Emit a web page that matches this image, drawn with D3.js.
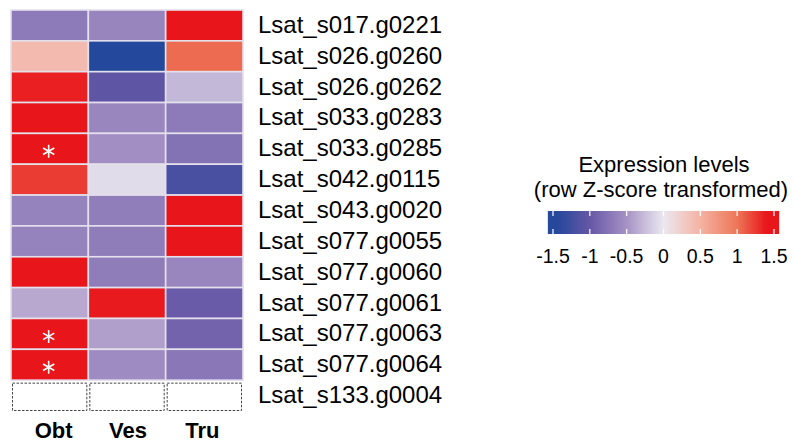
<!DOCTYPE html>
<html>
<head>
<meta charset="utf-8">
<script src="https://cdn.jsdelivr.net/npm/d3@7"></script>
<style>
  html, body { margin: 0; padding: 0; background: #fff; }
  svg { display: block; font-family: "Liberation Sans", Arial, sans-serif; }
</style>
</head>
<body>
<svg id="chart" width="793" height="444"></svg>
<script>
// ---- data ----
const genes = [
  "Lsat_s017.g0221", "Lsat_s026.g0260", "Lsat_s026.g0262", "Lsat_s033.g0283",
  "Lsat_s033.g0285", "Lsat_s042.g0115", "Lsat_s043.g0020", "Lsat_s077.g0055",
  "Lsat_s077.g0060", "Lsat_s077.g0061", "Lsat_s077.g0063", "Lsat_s077.g0064",
  "Lsat_s133.g0004"
];
const tissues = ["Obt", "Ves", "Tru"];
const obtValues = [-0.70, 0.42, 1.36, 1.41, 1.41, 1.24, -0.63, -0.63, 1.41, -0.37, 1.41, 1.41, null];
const vesValues = [-0.61, -1.45, -1.05, -0.60, -0.53, -0.07, -0.67, -0.68, -0.68, 1.38, -0.43, -0.56, null];
const truValues = [1.41, 1.04, -0.28, -0.70, -0.77, -1.20, 1.41, 1.41, -0.60, -0.97, -0.90, -0.73, null];
const significant = [
  {gene: "Lsat_s033.g0285", tissue: "Obt"},
  {gene: "Lsat_s077.g0063", tissue: "Obt"},
  {gene: "Lsat_s077.g0064", tissue: "Obt"}
];
const legendTicks = [-1.5, -1, -0.5, 0, 0.5, 1, 1.5];
const legendTickLabels = ["-1.5", "-1", "-0.5", "0", "0.5", "1", "1.5"];
const colorStops = [-1.45, -1, -0.5, 0, 0.5, 1, 1.4];
const colorRange = ["#24489b", "#6657a6", "#a692c5", "#ebe8f0", "#f4b3a3", "#ed7657", "#e8151b"];

// ---- build ----
const seriesByTissue = {Obt: obtValues, Ves: vesValues, Tru: truValues};
const cells = [];
genes.forEach((g, i) => tissues.forEach(t => cells.push({gene: g, tissue: t, value: seriesByTissue[t][i]})));

const color = d3.scaleLinear().domain(colorStops).range(colorRange).clamp(true);

const svg = d3.select("#chart");

const x = d3.scaleBand().domain(tissues).range([11, 243]).padding(0);
const y = d3.scaleBand().domain(genes).range([10, 411]).padding(0);

const g = svg.append("g");

// filled cells
g.selectAll("rect.cell")
  .data(cells.filter(d => d.value !== null))
  .join("rect")
  .attr("class", "cell")
  .attr("x", d => x(d.tissue))
  .attr("y", d => y(d.gene))
  .attr("width", x.bandwidth())
  .attr("height", y.bandwidth())
  .attr("fill", d => color(d.value))
  .attr("stroke", "#e4e0ec")
  .attr("stroke-width", 1.6);

// empty (NA) cells, dashed outline
g.selectAll("rect.na")
  .data(cells.filter(d => d.value === null))
  .join("rect")
  .attr("class", "na")
  .attr("x", d => x(d.tissue) + 1.5)
  .attr("y", d => y(d.gene) + 3)
  .attr("width", x.bandwidth() - 3)
  .attr("height", y.bandwidth() - 3.5)
  .attr("fill", "#fff")
  .attr("stroke", "#444")
  .attr("stroke-width", 1)
  .attr("stroke-dasharray", "2.5,1.5");

// asterisks
const astR = 6.5;
const astPath = (cx, cy) => {
  const p = d3.path();
  for (const a of [90, 30, 150]) {
    const r = a * Math.PI / 180;
    p.moveTo(cx - astR * Math.cos(r), cy - astR * Math.sin(r));
    p.lineTo(cx + astR * Math.cos(r), cy + astR * Math.sin(r));
  }
  return p.toString();
};
g.selectAll("path.sig")
  .data(significant)
  .join("path")
  .attr("class", "sig")
  .attr("d", d => astPath(x(d.tissue) + x.bandwidth() / 2 - 1, y(d.gene) + y.bandwidth() / 2 + 2.5))
  .attr("stroke", "#fff")
  .attr("stroke-width", 1.6)
  .attr("fill", "none");

// row labels
g.selectAll("text.row")
  .data(genes)
  .join("text")
  .attr("class", "row")
  .attr("x", 258)
  .attr("y", d => y(d) + y.bandwidth() / 2 + 7.5)
  .attr("font-size", 24)
  .attr("fill", "#000")
  .text(d => d);

// column labels
g.selectAll("text.col")
  .data(tissues)
  .join("text")
  .attr("class", "col")
  .attr("x", d => x(d) + x.bandwidth() / 2 + (d === "Obt" ? 4 : d === "Ves" ? 1 : -2))
  .attr("y", 438)
  .attr("text-anchor", "middle")
  .attr("font-size", 22)
  .attr("font-weight", "bold")
  .attr("fill", "#000")
  .text(d => d);

// ---- legend ----
const lx = d3.scaleLinear().domain([-1.5, 1.5]).range([553, 774]);
const barTop = 211, barH = 23;
const defs = svg.append("defs");
const grad = defs.append("linearGradient").attr("id", "lg").attr("x1", "0%").attr("x2", "100%");
const lo = -1.57, hi = 1.57;
d3.range(0, 1.0001, 0.02).forEach(t => {
  const v = lo + t * (hi - lo);
  grad.append("stop").attr("offset", (t * 100) + "%").attr("stop-color", color(v));
});
const leg = svg.append("g");
leg.append("rect")
  .attr("x", lx(lo)).attr("y", barTop)
  .attr("width", lx(hi) - lx(lo)).attr("height", barH)
  .attr("fill", "url(#lg)");
leg.selectAll("line.tt")
  .data(legendTicks)
  .join("line")
  .attr("class", "tt")
  .attr("x1", d => lx(d)).attr("x2", d => lx(d))
  .attr("y1", barTop).attr("y2", barTop + 5)
  .attr("stroke", "#fff").attr("stroke-width", 1.2);
leg.selectAll("line.tb")
  .data(legendTicks)
  .join("line")
  .attr("class", "tb")
  .attr("x1", d => lx(d)).attr("x2", d => lx(d))
  .attr("y1", barTop + barH - 5).attr("y2", barTop + barH)
  .attr("stroke", "#fff").attr("stroke-width", 1.2);
leg.selectAll("text.tl")
  .data(legendTicks)
  .join("text")
  .attr("class", "tl")
  .attr("x", (d, i) => lx(d))
  .attr("y", 263)
  .attr("text-anchor", "middle")
  .attr("font-size", 19.5)
  .attr("fill", "#000")
  .text((d, i) => legendTickLabels[i]);
leg.append("text")
  .attr("x", 664).attr("y", 172)
  .attr("text-anchor", "middle")
  .attr("font-size", 22)
  .attr("fill", "#000")
  .text("Expression levels");
leg.append("text")
  .attr("x", 661).attr("y", 196.5)
  .attr("text-anchor", "middle")
  .attr("font-size", 22)
  .attr("fill", "#000")
  .text("(row Z-score transformed)");
</script>
</body>
</html>
